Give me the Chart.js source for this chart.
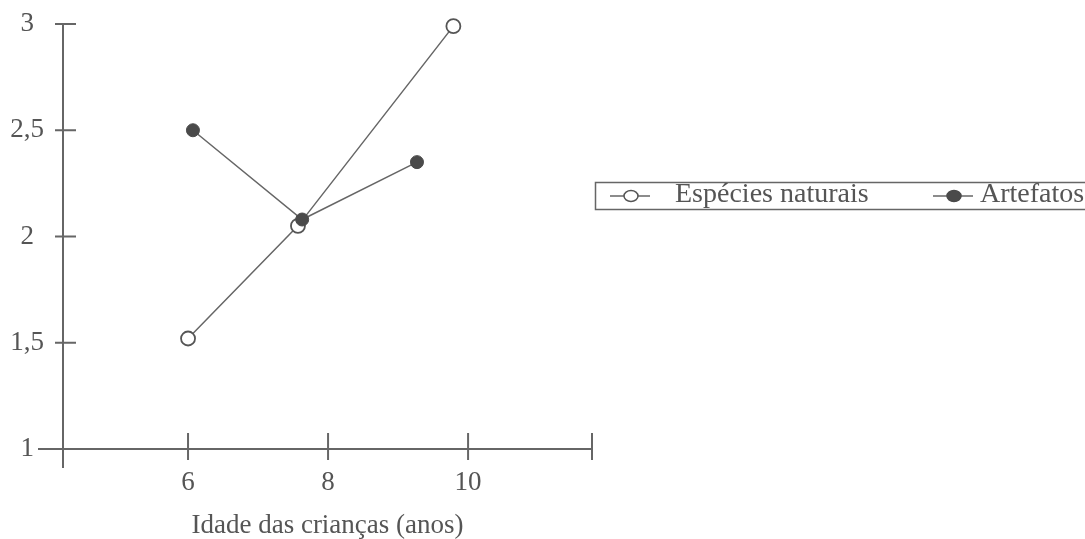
<!DOCTYPE html>
<html>
<head>
<meta charset="utf-8">
<script src="https://cdn.jsdelivr.net/npm/chart.js@4"></script>
<style>
  html, body { margin: 0; padding: 0; background: #fff; }
  #wrap { width: 1085px; height: 539px; position: relative; }
</style>
</head>
<body>
<div id="wrap"><canvas id="lineChart"></canvas></div>
<script>
// values
const naturaisAge = [6.0, 7.57, 9.79];
const naturaisScore = [1.52, 2.05, 2.99];
const artefatosAge = [6.07, 7.63, 9.27];
const artefatosScore = [2.5, 2.08, 2.35];
const xTicks = [6, 8, 10];
const yTicks = [1, 1.5, 2, 2.5, 3];
const seriesNames = ["Espécies naturais", "Artefatos"];
const xTitle = "Idade das crianças (anos)";

const ink = "#555";
const lineInk = "#666";
const serif = "'Liberation Serif', 'DejaVu Serif', serif";

function toPoints(xs, ys) {
  return xs.map((x, i) => ({ x: x, y: ys[i] }));
}

// axis lines with crossing ticks, the way the printed figure has them
const axesPlugin = {
  id: "axes",
  beforeDatasetsDraw(chart) {
    const ctx = chart.ctx;
    const xs = chart.scales.x;
    const ys = chart.scales.y;
    const x0 = xs.getPixelForValue(xs.min);
    const x1 = xs.getPixelForValue(xs.max);
    const y0 = ys.getPixelForValue(ys.min);
    const y1 = ys.getPixelForValue(ys.max);
    ctx.save();
    ctx.strokeStyle = lineInk;
    ctx.lineWidth = 2;
    ctx.beginPath();
    ctx.moveTo(x0 - 25, y0);
    ctx.lineTo(x1, y0);
    ctx.moveTo(x0, y1);
    ctx.lineTo(x0, y0 + 19);
    xTicks.concat([xs.max]).forEach(v => {
      const px = xs.getPixelForValue(v);
      ctx.moveTo(px, y0 - 16);
      ctx.lineTo(px, y0 + 11);
    });
    yTicks.slice(1).forEach(v => {
      const py = ys.getPixelForValue(v);
      ctx.moveTo(x0 - 8, py);
      ctx.lineTo(x0 + 13, py);
    });
    ctx.stroke();
    ctx.restore();
  }
};

// boxed legend that runs off the right edge
const legendPlugin = {
  id: "boxLegend",
  afterDraw(chart) {
    const ctx = chart.ctx;
    const sets = chart.data.datasets;
    ctx.save();
    ctx.strokeStyle = lineInk;
    ctx.lineWidth = 1.5;
    ctx.strokeRect(595.5, 182.5, 600, 27);
    const items = [
      { ds: sets[0], x: 610, tx: 675 },
      { ds: sets[1], x: 933, tx: 980 }
    ];
    items.forEach(it => {
      ctx.strokeStyle = it.ds.borderColor;
      ctx.lineWidth = 1.5;
      ctx.beginPath();
      ctx.moveTo(it.x, 196);
      ctx.lineTo(it.x + 40, 196);
      ctx.stroke();
      ctx.beginPath();
      ctx.ellipse(it.x + 21, 196, 7, 5.5, 0, 0, Math.PI * 2);
      ctx.fillStyle = it.ds.pointBackgroundColor;
      ctx.fill();
      ctx.strokeStyle = it.ds.pointBorderColor;
      ctx.lineWidth = 1.5;
      ctx.stroke();
      ctx.fillStyle = ink;
      ctx.font = "28px " + serif;
      ctx.textBaseline = "alphabetic";
      ctx.fillText(it.ds.label, it.tx, 202);
    });
    ctx.restore();
  }
};

const ctx = document.getElementById("lineChart").getContext("2d");
const chart = new Chart(ctx, {
  type: "line",
  data: {
    datasets: [
      {
        label: seriesNames[0],
        data: toPoints(naturaisAge, naturaisScore),
        borderColor: lineInk,
        borderWidth: 1.5,
        pointRadius: 7,
        pointBackgroundColor: "#fff",
        pointBorderColor: ink,
        pointBorderWidth: 1.8,
        clip: false,
        order: 2
      },
      {
        label: seriesNames[1],
        data: toPoints(artefatosAge, artefatosScore),
        borderColor: lineInk,
        borderWidth: 1.5,
        pointRadius: 6.5,
        pointBackgroundColor: "#4a4a4a",
        pointBorderColor: "#4a4a4a",
        pointBorderWidth: 1,
        clip: false,
        order: 1
      }
    ]
  },
  options: {
    responsive: true,
    maintainAspectRatio: false,
    animation: false,
    layout: { padding: { left: 0, top: 24, right: 493, bottom: 0 } },
    plugins: {
      legend: { display: false },
      tooltip: { enabled: false }
    },
    scales: {
      x: {
        type: "linear",
        min: 4.214,
        max: 11.77,
        grid: { display: false, drawTicks: false },
        border: { display: false },
        afterBuildTicks: scale => {
          scale.ticks = xTicks.map(v => ({ value: v }));
        },
        afterFit: scale => {
          scale.height = 90;
          scale.paddingLeft = 0;
          scale.paddingRight = 0;
        },
        ticks: {
          color: ink,
          padding: 18,
          maxRotation: 0,
          font: { family: serif, size: 27 }
        },
        title: {
          display: true,
          text: xTitle,
          color: ink,
          padding: { top: 0, bottom: 0 },
          font: { family: serif, size: 27, lineHeight: 1 }
        }
      },
      y: {
        min: 1,
        max: 3,
        grid: { display: false, drawTicks: false },
        border: { display: false },
        afterBuildTicks: scale => {
          scale.ticks = yTicks.map(v => ({ value: v }));
        },
        afterFit: scale => {
          scale.width = 63;
          scale.paddingTop = 0;
          scale.paddingBottom = 0;
        },
        ticks: {
          color: ink,
          padding: 19,
          crossAlign: "center",
          font: { family: serif, size: 27 },
          callback: v => String(v).replace(".", ",")
        }
      }
    }
  },
  plugins: [axesPlugin, legendPlugin]
});
</script>
</body>
</html>
